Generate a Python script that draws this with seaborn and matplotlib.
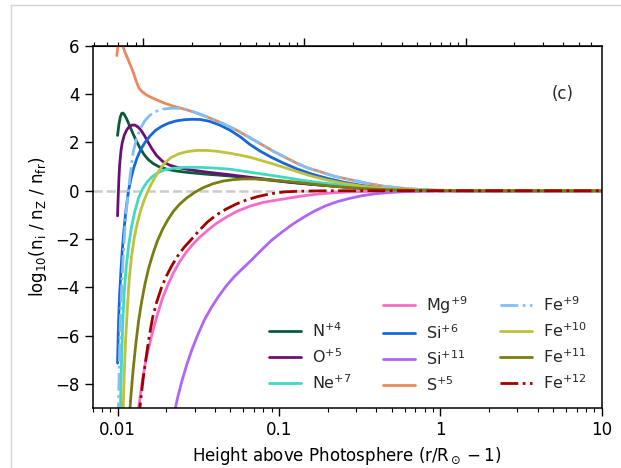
import numpy as np
import matplotlib
matplotlib.use("Agg")
import matplotlib.pyplot as plt
import seaborn as sns
from matplotlib.lines import Line2D
from matplotlib.ticker import FuncFormatter, NullFormatter

# height above photosphere (r/Rsun - 1) and log10(n_i / n_Z / n_fr)
n4_h = [0.0100, 0.0102, 0.0104, 0.0106, 0.0108, 0.0110, 0.0113, 0.0116, 0.0120, 0.0125, 0.0131, 0.0138,
        0.0146, 0.0155, 0.0166, 0.0180, 0.0200, 0.0230, 0.0270, 0.035, 0.050, 0.066, 0.090, 0.120,
        0.170, 0.230, 0.300, 0.400, 0.55, 0.75, 1.0, 1.5, 10]
n4_v = [2.29, 2.75, 3.05, 3.20, 3.22, 3.16, 3.02, 2.85, 2.62, 2.35, 2.05, 1.76,
        1.50, 1.29, 1.13, 1.00, 0.90, 0.82, 0.76, 0.69, 0.61, 0.53, 0.43, 0.34,
        0.25, 0.18, 0.12, 0.07, 0.035, 0.015, 0.005, 0.0, 0.0]

o5_h = [0.0100, 0.0101, 0.0102, 0.0103, 0.0105, 0.0107, 0.0110, 0.0114, 0.0118, 0.0123, 0.0128, 0.0134,
        0.0140, 0.0147, 0.0155, 0.0164, 0.0175, 0.0190, 0.0210, 0.0240, 0.0280, 0.035, 0.050, 0.066,
        0.090, 0.120, 0.170, 0.230, 0.300, 0.400, 0.55, 0.75, 1.0, 1.5, 10]
o5_v = [-1.04, -0.2, 0.5, 1.05, 1.65, 2.0, 2.3, 2.52, 2.65, 2.72, 2.72, 2.64,
        2.50, 2.28, 2.00, 1.72, 1.45, 1.22, 1.06, 0.95, 0.87, 0.78, 0.66, 0.56,
        0.45, 0.35, 0.25, 0.18, 0.12, 0.07, 0.035, 0.015, 0.005, 0.0, 0.0]

ne7_h = [0.0104, 0.0105, 0.0106, 0.0108, 0.0110, 0.0113, 0.0117, 0.0122, 0.0128, 0.0135, 0.0143, 0.0152,
         0.0163, 0.0177, 0.0195, 0.0220, 0.0260, 0.0320, 0.040, 0.050, 0.066, 0.085, 0.107, 0.135,
         0.172, 0.220, 0.276, 0.35, 0.45, 0.6, 0.8, 1.1, 1.6, 10]
ne7_v = [-9.5, -8.0, -6.9, -5.3, -4.2, -3.2, -2.3, -1.5, -0.85, -0.3, 0.08, 0.35,
         0.57, 0.74, 0.86, 0.93, 0.97, 0.97, 0.94, 0.89, 0.77, 0.66, 0.56, 0.45,
         0.35, 0.27, 0.21, 0.14, 0.08, 0.04, 0.015, 0.004, 0.0, 0.0]

mg9_h = [0.0132, 0.0137, 0.0143, 0.0150, 0.0158, 0.0167, 0.0178, 0.0190, 0.0205, 0.0222, 0.0242, 0.0265,
         0.0290, 0.0320, 0.036, 0.041, 0.047, 0.055, 0.066, 0.080, 0.107, 0.135, 0.172, 0.22,
         0.276, 0.37, 0.5, 0.8, 10]
mg9_v = [-9.5, -8.7, -7.8, -7.0, -6.35, -5.7, -5.05, -4.45, -3.9, -3.4, -2.95, -2.57,
         -2.25, -1.95, -1.65, -1.35, -1.1, -0.85, -0.64, -0.48, -0.34, -0.23, -0.14, -0.08,
         -0.045, -0.02, -0.008, 0.0, 0.0]

si6_h = [0.0100, 0.0101, 0.0102, 0.0103, 0.0105, 0.0107, 0.0110, 0.0113, 0.0117, 0.0121, 0.0126, 0.0132,
         0.0139, 0.0148, 0.0159, 0.0172, 0.0188, 0.0207, 0.0230, 0.0258, 0.0290, 0.0325, 0.037, 0.043,
         0.050, 0.058, 0.066, 0.077, 0.090, 0.107, 0.130, 0.160, 0.200, 0.250, 0.320, 0.42, 0.55,
         0.75, 1.0, 1.5, 10]
si6_v = [-7.14, -5.9, -5.0, -4.3, -3.3, -2.45, -1.5, -0.75, 0.0, 0.5, 0.95, 1.35,
         1.70, 2.00, 2.27, 2.50, 2.67, 2.80, 2.89, 2.94, 2.96, 2.95, 2.88, 2.72,
         2.50, 2.22, 1.92, 1.63, 1.38, 1.14, 0.90, 0.69, 0.51, 0.36, 0.23, 0.13, 0.07,
         0.03, 0.01, 0.0, 0.0]

si11_h = [0.0220, 0.0235, 0.0250, 0.0270, 0.0290, 0.0315, 0.0345, 0.038, 0.042, 0.047, 0.053, 0.060,
          0.068, 0.078, 0.090, 0.105, 0.122, 0.142, 0.165, 0.195, 0.23, 0.276, 0.33, 0.40,
          0.50, 0.65, 0.9, 1.3, 10]
si11_v = [-9.5, -8.6, -7.9, -7.15, -6.55, -5.95, -5.35, -4.85, -4.4, -3.95, -3.55, -3.2,
          -2.85, -2.45, -2.05, -1.7, -1.38, -1.1, -0.85, -0.62, -0.45, -0.31, -0.20, -0.12,
          -0.065, -0.03, -0.01, 0.0, 0.0]

s5_h = [0.0099, 0.0100, 0.0101, 0.0103, 0.0105, 0.0107, 0.0111, 0.0116, 0.0121, 0.0126, 0.0131, 0.0136,
        0.0142, 0.0150, 0.0160, 0.0175, 0.0195, 0.022, 0.025, 0.029, 0.034, 0.040, 0.047, 0.055,
        0.066, 0.078, 0.092, 0.108, 0.128, 0.150, 0.180, 0.22, 0.276, 0.35, 0.444, 0.55, 0.65,
        0.8, 1.0, 1.4, 2, 10]
s5_v = [5.6, 5.85, 6.1, 6.35, 6.3, 6.05, 5.75, 5.45, 5.15, 4.85, 4.5, 4.25,
        4.1, 3.98, 3.88, 3.76, 3.63, 3.51, 3.41, 3.28, 3.12, 2.93, 2.72, 2.50,
        2.20, 1.92, 1.64, 1.40, 1.15, 0.95, 0.79, 0.60, 0.46, 0.31, 0.19, 0.12, 0.08,
        0.04, 0.02, 0.005, 0.0, 0.0]

fe9_h = [0.0101, 0.0102, 0.0103, 0.0104, 0.0106, 0.0108, 0.0110, 0.0113, 0.0116, 0.0120, 0.0125, 0.0131,
         0.0138, 0.0147, 0.0158, 0.0172, 0.0190, 0.0215, 0.0245, 0.0275, 0.034, 0.040, 0.047, 0.055,
         0.066, 0.078, 0.092, 0.108, 0.128, 0.150, 0.180, 0.22, 0.276, 0.35, 0.444, 0.55, 0.65,
         0.8, 1.0, 1.4, 2, 10]
fe9_v = [-9.5, -8.0, -6.6, -5.5, -4.0, -2.9, -2.0, -0.9, -0.2, 0.7, 1.6, 2.15,
         2.56, 2.88, 3.12, 3.28, 3.38, 3.42, 3.41, 3.35, 3.12, 2.93, 2.72, 2.50,
         2.20, 1.92, 1.64, 1.40, 1.15, 0.95, 0.79, 0.60, 0.46, 0.31, 0.19, 0.12, 0.08,
         0.04, 0.02, 0.005, 0.0, 0.0]

fe10_h = [0.0108, 0.0110, 0.0112, 0.0115, 0.0118, 0.0122, 0.0127, 0.0133, 0.0140, 0.0148, 0.0157, 0.0168,
          0.0181, 0.0196, 0.0215, 0.0240, 0.027, 0.031, 0.036, 0.042, 0.050, 0.058, 0.066, 0.078,
          0.092, 0.107, 0.130, 0.160, 0.200, 0.250, 0.32, 0.42, 0.55, 0.75, 1.0, 1.5, 10]
fe10_v = [-9.5, -7.6, -6.3, -4.9, -3.7, -2.75, -1.95, -1.3, -0.75, -0.3, 0.1, 0.48,
          0.84, 1.15, 1.38, 1.53, 1.62, 1.67, 1.67, 1.63, 1.55, 1.47, 1.39, 1.25,
          1.11, 0.97, 0.79, 0.60, 0.44, 0.31, 0.20, 0.11, 0.06, 0.025, 0.01, 0.0, 0.0]

fe11_h = [0.0118, 0.0121, 0.0125, 0.0130, 0.0135, 0.0141, 0.0148, 0.0156, 0.0165, 0.0176, 0.0190, 0.0205,
          0.0222, 0.0243, 0.0268, 0.030, 0.034, 0.039, 0.045, 0.052, 0.060, 0.070, 0.082, 0.100,
          0.125, 0.160, 0.20, 0.25, 0.32, 0.42, 0.55, 0.75, 1.0, 1.5, 10]
fe11_v = [-9.5, -8.5, -7.4, -6.3, -5.4, -4.6, -3.85, -3.2, -2.65, -2.1, -1.6, -1.2,
          -0.85, -0.55, -0.3, -0.07, 0.13, 0.29, 0.40, 0.46, 0.49, 0.49, 0.47, 0.42,
          0.36, 0.28, 0.21, 0.15, 0.10, 0.055, 0.03, 0.012, 0.004, 0.0, 0.0]

fe12_h = [0.0135, 0.0139, 0.0144, 0.0150, 0.0157, 0.0165, 0.0175, 0.0187, 0.0200, 0.0217, 0.0236, 0.0258,
          0.0288, 0.032, 0.036, 0.041, 0.047, 0.054, 0.063, 0.074, 0.088, 0.107, 0.13, 0.18,
          0.25, 10]
fe12_v = [-9.5, -8.7, -7.8, -6.95, -6.05, -5.25, -4.6, -4.02, -3.55, -3.1, -2.7, -2.35,
          -2.0, -1.65, -1.3, -1.0, -0.76, -0.56, -0.38, -0.24, -0.13, -0.05, -0.02, -0.005,
          0.0, 0.0]

ions = [
    (r"N$^{+4}$", n4_h, n4_v, "#0b5a38", "-"),
    (r"O$^{+5}$", o5_h, o5_v, "#6c0f72", "-"),
    (r"Ne$^{+7}$", ne7_h, ne7_v, "#40d9c2", "-"),
    (r"Mg$^{+9}$", mg9_h, mg9_v, "#f66ccb", "-"),
    (r"Si$^{+6}$", si6_h, si6_v, "#1668d8", "-"),
    (r"Si$^{+11}$", si11_h, si11_v, "#b066f5", "-"),
    (r"S$^{+5}$", s5_h, s5_v, "#e88a5e", "-"),
    (r"Fe$^{+9}$", fe9_h, fe9_v, "#80c0f5", "-."),
    (r"Fe$^{+10}$", fe10_h, fe10_v, "#bfc23c", "-"),
    (r"Fe$^{+11}$", fe11_h, fe11_v, "#7a7c10", "-"),
    (r"Fe$^{+12}$", fe12_h, fe12_v, "#a00000", "-."),
]

RSUN_MM = 696.0

sns.set_style("ticks")
plt.rcParams["font.family"] = ["DejaVu Sans"]
plt.rcParams["axes.edgecolor"] = "black"
plt.rcParams["xtick.color"] = "black"
plt.rcParams["ytick.color"] = "black"
plt.rcParams["axes.labelcolor"] = "black"

fig, ax = plt.subplots(figsize=(6.21, 4.68), dpi=100)
fig.subplots_adjust(left=0.149, right=0.969, bottom=0.128, top=0.902)
ax.set_xscale("log")

ax.axhline(0, color="#cccccc", ls="--", lw=1.8, zorder=0)

for label, h, v, c, ls in ions:
    sns.lineplot(x=h, y=v, ax=ax, color=c, linestyle=ls, lw=2,
                 label=label, estimator=None, sort=False)

ax.set_xlim(0.007, 10)
ax.set_ylim(-9, 6)
ax.set_yticks(np.arange(-8, 7, 2))
ax.xaxis.set_major_formatter(FuncFormatter(lambda x, p: f"{x:g}"))
ax.xaxis.set_minor_formatter(NullFormatter())
ax.tick_params(axis="both", which="major", labelsize=12, length=6, width=1, color="black")
ax.tick_params(axis="both", which="minor", length=3, width=0.8)
for sp in ax.spines.values():
    sp.set_linewidth(1.1)
    sp.set_color("black")

# top axis: height in Mm, labels fall outside the cropped figure
sec = ax.secondary_xaxis("top", functions=(lambda h: h * RSUN_MM, lambda m: m / RSUN_MM))
sec.tick_params(axis="x", which="both", labeltop=False)
sec.tick_params(axis="x", which="major", length=6, width=1)
sec.tick_params(axis="x", which="minor", length=3, width=0.8)
sec.xaxis.set_major_formatter(NullFormatter())
sec.xaxis.set_minor_formatter(NullFormatter())

ax.set_xlabel(r"Height above Photosphere (r/R$_\odot-1$)", fontsize=12)
ax.set_ylabel(r"log$_{10}$(n$_\mathrm{i}$ / n$_\mathrm{Z}$ / n$_\mathrm{fr}$)", fontsize=12)
ax.text(0.923, 0.867, "(c)", transform=ax.transAxes, ha="center", va="center", fontsize=12)

handles, labels = ax.get_legend_handles_labels()
blank = Line2D([], [], color="none")
ax.legend([blank] + handles, [""] + labels, ncol=3, loc="lower right",
          frameon=False, fontsize=11.5, handlelength=2.0, handletextpad=0.7,
          columnspacing=2.0, labelspacing=0.45)

# light border of the original screenshot
fig.add_artist(Line2D([11 / 621, 11 / 621], [0, 1 - 5 / 468], transform=fig.transFigure,
                      color="#d4d4d4", lw=1))
fig.add_artist(Line2D([11 / 621, 1], [1 - 5 / 468, 1 - 5 / 468], transform=fig.transFigure,
                      color="#d4d4d4", lw=1))

fig.savefig("out.png", dpi=100)
